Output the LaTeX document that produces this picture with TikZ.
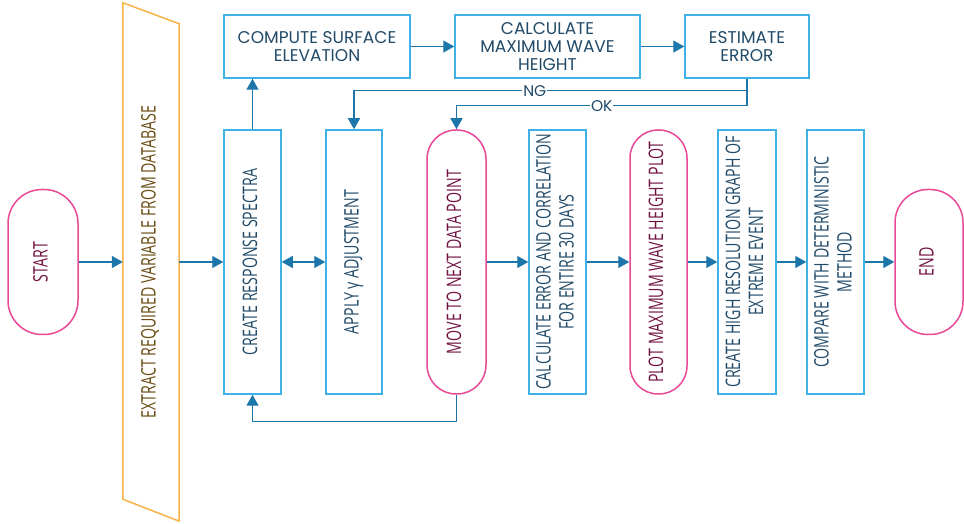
\documentclass[tikz,border=0pt]{standalone}
\usepackage{fontspec}
\setmainfont{Poppins}
\newfontfamily\narrowfont[FakeStretch=0.71]{Open Sans}
\usetikzlibrary{arrows.meta,calc}

\definecolor{boxblue}{RGB}{62,178,230}
\definecolor{txtblue}{RGB}{32,74,104}
\definecolor{arrowblue}{RGB}{28,118,170}
\definecolor{termpink}{RGB}{232,72,150}
\definecolor{termtext}{RGB}{112,18,66}
\definecolor{extorange}{RGB}{248,178,72}
\definecolor{exttext}{RGB}{104,76,18}

% 竖排文字
\newcommand\vlabel[1]{\rotatebox{90}{\begin{tabular}{@{}c@{}}#1\end{tabular}}}

\tikzset{
  topbox/.style={draw=boxblue,line width=1.5pt,text=txtblue,align=center,
    font=\fontsize{17}{18}\selectfont,minimum height=63pt,inner sep=2pt},
  vbox/.style={draw=boxblue,line width=1.5pt,text=txtblue,
    font=\narrowfont\fontsize{20}{23}\selectfont,minimum height=264pt,inner sep=0pt},
  term/.style={draw=termpink,line width=1.5pt,text=termtext,rounded corners=#1,
    font=\narrowfont\fontsize{20}{23}\selectfont,inner sep=0pt},
  flow/.style={draw=arrowblue,line width=1.4pt,->},
  lbl/.style={fill=white,text=txtblue,font=\fontsize{15.5}{16}\selectfont,inner sep=1pt}
}

\begin{document}
\begin{tikzpicture}[x=1pt,y=1pt,>={Triangle[length=11pt,width=12pt]}]
  \useasboundingbox (0,0) rectangle (964,524);

  % 主流程
  \node[term=34pt,minimum width=70pt,minimum height=145pt] (start) at (43,262) {\vlabel{START}};
  \node[minimum width=56pt,minimum height=518pt,inner sep=0pt,text=exttext,
    font=\narrowfont\fontsize{20}{23}\selectfont] (extract) at (151,262)
    {\vlabel{EXTRACT REQUIRED VARIABLE FROM DATABASE}};
  \draw[extorange,line width=1.5pt] (extract.north west) -- ($(extract.north east)+(0,-21)$)
    -- (extract.south east) -- ($(extract.south west)+(0,22)$) -- cycle;
  \node[vbox,minimum width=57pt] (resp) at (252.5,262) {\vlabel{CREATE RESPONSE SPECTRA}};
  \node[vbox,minimum width=56pt] (apply) at (354,262) {\vlabel{APPLY γ ADJUSTMENT}};
  \node[term=29pt,minimum width=59pt,minimum height=264pt] (move) at (456.5,262)
    {\vlabel{MOVE TO NEXT DATA POINT}};
  \node[vbox,minimum width=57pt] (calcerr) at (557.5,262)
    {\vlabel{CALCULATE ERROR AND CORRELATION\\FOR ENTIRE 30 DAYS}};
  \node[term=28pt,minimum width=57pt,minimum height=264pt] (plot) at (658.5,262)
    {\vlabel{PLOT MAXIMUM WAVE HEIGHT PLOT}};
  \node[vbox,minimum width=58pt] (highres) at (747,262)
    {\vlabel{CREATE HIGH RESOLUTION GRAPH OF\\EXTREME EVENT}};
  \node[vbox,minimum width=57pt] (compare) at (835.5,262)
    {\vlabel{COMPARE WITH DETERMINISTIC\\METHOD}};
  \node[term=33pt,minimum width=68pt,minimum height=145pt] (stop) at (929,262) {\vlabel{END}};

  % 上方循环
  \node[topbox,minimum width=186pt] (surface) at (317,477.5) {COMPUTE SURFACE\\ELEVATION};
  \node[topbox,minimum width=185pt] (maxwave) at (547.5,477.5) {CALCULATE\\MAXIMUM WAVE\\HEIGHT};
  \node[topbox,minimum width=124pt] (esterr) at (747,477.5) {ESTIMATE\\ERROR};

  % 连线
  \draw[flow] (start) -- (extract);
  \draw[flow] (extract) -- (resp);
  \draw[flow,<->] (resp) -- (apply);
  \draw[flow] (move) -- (calcerr);
  \draw[flow] (calcerr) -- (plot);
  \draw[flow] (plot) -- (highres);
  \draw[flow] (highres) -- (compare);
  \draw[flow] (compare) -- (stop);

  \draw[flow] (resp.north) -- (resp.north |- surface.south);
  \draw[flow] (surface) -- (maxwave);
  \draw[flow] (maxwave) -- (esterr);
  \draw[flow] (esterr.south) -- ++(0,-12) -| node[lbl,pos=0.27] {NG} (apply.north);
  \draw[flow] (esterr.south) -- ++(0,-27) -| node[lbl,pos=0.25] {OK} (move.north);
  \draw[flow] (move.south) -- ++(0,-27) -| (resp.south);
\end{tikzpicture}
\end{document}
